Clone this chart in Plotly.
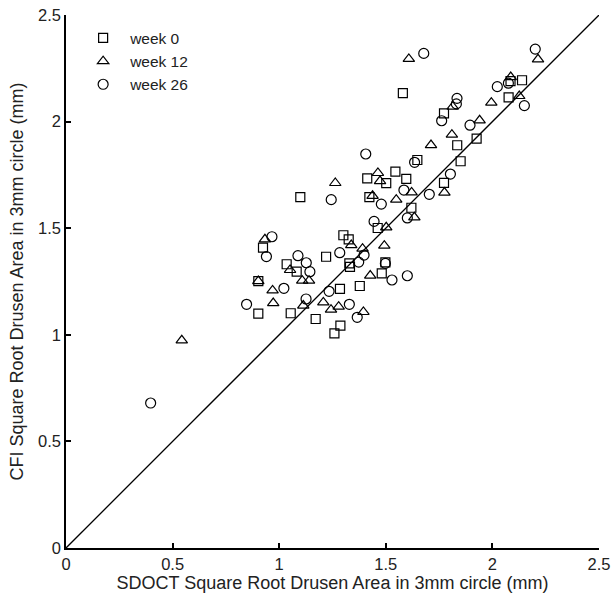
import plotly.graph_objects as go

# Square-root drusen area (mm) in the 3 mm circle: SDOCT (x) vs CFI (y)
week0_sdoct = [1.580, 2.085, 2.139, 2.076, 1.773, 1.835, 1.926, 1.851, 1.773, 1.099,
               1.413, 1.502, 1.545, 1.596, 1.648, 1.423, 1.620, 1.462, 1.301, 1.326,
               1.220, 1.329, 1.332, 1.498, 1.481, 1.035, 1.082, 0.924, 0.902, 0.902,
               1.054, 1.171, 1.285, 1.378, 1.287, 1.259]
week0_cfi = [2.134, 2.190, 2.194, 2.114, 2.039, 1.889, 1.920, 1.814, 1.713, 1.646,
             1.734, 1.711, 1.765, 1.731, 1.820, 1.646, 1.596, 1.501, 1.467, 1.448,
             1.366, 1.335, 1.319, 1.340, 1.288, 1.331, 1.296, 1.409, 1.252, 1.099,
             1.101, 1.074, 1.215, 1.229, 1.043, 1.007]

week12_sdoct = [1.608, 2.214, 2.086, 1.995, 2.126, 1.814, 1.940, 1.810, 1.775, 1.263,
                1.463, 1.473, 1.621, 1.712, 1.438, 1.549, 1.634, 1.502, 1.493, 1.338,
                1.391, 1.427, 1.051, 0.933, 0.902, 0.969, 0.972, 0.543, 1.108, 1.140,
                1.113, 1.207, 1.243, 1.279, 1.395]
week12_cfi = [2.294, 2.292, 2.209, 2.089, 2.120, 2.070, 2.006, 1.939, 1.667, 1.712,
              1.759, 1.721, 1.668, 1.890, 1.652, 1.634, 1.551, 1.504, 1.418, 1.421,
              1.404, 1.278, 1.304, 1.448, 1.252, 1.208, 1.149, 0.974, 1.254, 1.254,
              1.137, 1.152, 1.118, 1.132, 1.107]

week26_sdoct = [1.678, 2.201, 2.075, 2.023, 2.150, 1.834, 1.831, 1.762, 1.895, 1.803,
                1.406, 1.244, 1.585, 1.635, 1.704, 1.479, 1.601, 1.445, 1.284, 1.398,
                1.373, 1.498, 1.601, 1.529, 1.088, 1.127, 1.144, 0.966, 0.940, 0.847,
                0.397, 1.022, 1.126, 1.234, 1.329, 1.366]
week26_cfi = [2.320, 2.340, 2.180, 2.164, 2.075, 2.109, 2.083, 2.004, 1.983, 1.754,
              1.848, 1.634, 1.679, 1.809, 1.659, 1.613, 1.548, 1.532, 1.385, 1.374,
              1.341, 1.335, 1.277, 1.257, 1.371, 1.338, 1.296, 1.460, 1.367, 1.143,
              0.680, 1.218, 1.168, 1.204, 1.143, 1.082]

axis_range = [0, 2.5]
tick_vals = [0, 0.5, 1, 1.5, 2, 2.5]
tick_text = ["0", "0.5", "1", "1.5", "2", "2.5"]

FONT = "Arial, 'Liberation Sans', sans-serif"

fig = go.Figure()

# identity line y = x
fig.add_trace(go.Scatter(
    x=axis_range, y=axis_range, mode="lines",
    line=dict(color="black", width=1.3), showlegend=False, hoverinfo="skip"))

series = [
    ("week 0", week0_sdoct, week0_cfi, "square-open", 9),
    ("week 12", week12_sdoct, week12_cfi, "triangle-up-open", 10),
    ("week 26", week26_sdoct, week26_cfi, "circle-open", 10),
]
for name, xs, ys, sym, sz in series:
    fig.add_trace(go.Scatter(
        x=xs, y=ys, mode="markers", name=name,
        marker=dict(symbol=sym, size=sz, color="black",
                    line=dict(color="black", width=1.2))))

axis_common = dict(
    range=axis_range, tickvals=tick_vals, ticktext=tick_text,
    showgrid=False, zeroline=False, showline=True, linecolor="black", linewidth=1.6,
    ticks="inside", ticklen=5, tickwidth=1.6, tickcolor="black", automargin=False,
    tickfont=dict(family=FONT, size=16.5, color="#222"),
)

fig.update_xaxes(
    **axis_common,
    title=dict(text="SDOCT Square Root Drusen Area in 3mm circle (mm)",
               font=dict(family=FONT, size=18, color="#222"), standoff=5),
)
fig.update_yaxes(
    **axis_common,
    title=dict(text="CFI Square Root Drusen Area in 3mm circle (mm)",
               font=dict(family=FONT, size=18, color="#222"), standoff=10),
)

fig.update_layout(
    width=611, height=599,
    margin=dict(l=66, r=12, t=15, b=51),
    paper_bgcolor="white", plot_bgcolor="white",
    font=dict(family=FONT, size=16, color="#222"),
    legend=dict(x=0.019, y=0.988, xanchor="left", yanchor="top",
                bgcolor="rgba(0,0,0,0)", borderwidth=0, itemwidth=44,
                font=dict(family=FONT, size=15.5, color="#222")),
)

fig.write_html("out.html")
